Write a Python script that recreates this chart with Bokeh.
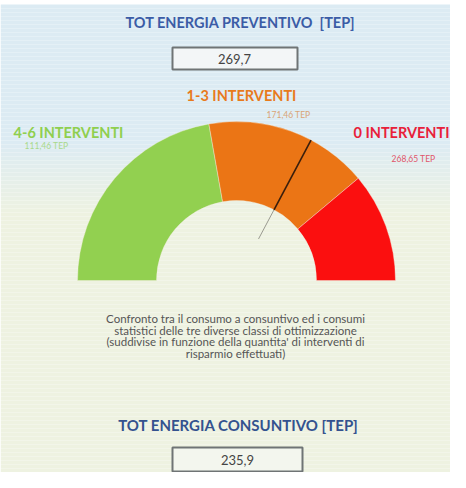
import math
from bokeh.plotting import figure
from bokeh.models import Range1d
from bokeh.core.properties import value
from bokeh.embed import file_html
from bokeh.resources import INLINE

# ---------------- data ----------------
classes = ["4-6 INTERVENTI", "1-3 INTERVENTI", "0 INTERVENTI"]
class_tep = ["111,46 TEP", "171,46 TEP", "268,65 TEP"]
class_colors = ["#92d050", "#eb7515", "#fb0f0f"]
label_colors = ["#8fcf4e", "#e87a1c", "#e8203a"]
sub_colors = ["#a9d98a", "#d9a476", "#e0556a"]
bounds = [0, 160, 280, 360]          # gauge scale limits between classes (TEP)
tot_preventivo = 269.7
tot_consuntivo = 235.9
title_top = "TOT ENERGIA PREVENTIVO\u00a0\u00a0[TEP]"
title_bottom = "TOT ENERGIA CONSUNTIVO [TEP]"
description = [
    "Confronto tra il consumo a consuntivo ed i consumi",
    "statistici delle tre diverse classi di ottimizzazione",
    "(suddivise in funzione della quantita' di interventi di",
    "risparmio effettuati)",
]

W, H = 450, 472
p = figure(width=W, height=H, output_backend="svg", toolbar_location=None,
           x_range=Range1d(8, 8 + W), y_range=Range1d(488 - 8 - H, 488 - 8),
           min_border=0)
p.axis.visible = False
p.grid.visible = False
p.outline_line_color = None
p.background_fill_color = "white"
p.border_fill_color = "white"


def Y(sy):
    return 488 - sy


def lerp_col(c1, c2, t):
    a = [int(c1[i:i + 2], 16) for i in (1, 3, 5)]
    b = [int(c2[i:i + 2], 16) for i in (1, 3, 5)]
    return "#%02x%02x%02x" % tuple(int(round(a[k] + (b[k] - a[k]) * t)) for k in range(3))


# background: light blue to cream gradient
blue, cream = "#dcebf3", "#eef2e1"
strips_top, strips_bot, strips_col = [], [], []
y0 = 12
step = 4
while y0 < 488:
    y1 = min(488, y0 + step)
    mid = (y0 + y1) / 2
    t = min(1, max(0, (mid - 150) / 70))
    strips_top.append(Y(y0))
    strips_bot.append(Y(y1))
    strips_col.append(lerp_col(blue, cream, t))
    y0 = y1
p.quad(left=8, right=8 + W, top=strips_top, bottom=strips_bot,
       fill_color=strips_col, line_color=None)

font = value("Lato")

# top title and box
p.text(x=[248], y=[Y(30)], text=[title_top], text_font=font, text_font_style="bold",
       text_font_size="14.5px", text_color="#3b5ca6", text_align="center",
       text_baseline="middle")
p.quad(left=[180], right=[305], top=[Y(55)], bottom=[Y(77)],
       fill_color="#f3f6f7", line_color="#6f7475", line_width=2)
p.text(x=[242], y=[Y(66)], text=[f"{tot_preventivo:.1f}".replace(".", ",")],
       text_font=font, text_font_size="13px", text_color="#444444",
       text_align="center", text_baseline="middle")

# gauge
cx, cy = 244, Y(288)
r_in, r_out = 80, 159
lo, hi = bounds[0], bounds[-1]


def ang(v):
    return math.pi * (1 - (v - lo) / (hi - lo))


starts = [ang(bounds[i + 1]) for i in range(len(classes))]
ends = [ang(bounds[i]) for i in range(len(classes))]
p.annular_wedge(x=cx, y=cy, inner_radius=r_in, outer_radius=r_out,
                start_angle=starts, end_angle=ends, fill_color=class_colors,
                line_color="#f4f0e0", line_width=0.8, line_alpha=0.5)

# needle for consumption value
a = ang(tot_consuntivo)
ca, sa = math.cos(a), math.sin(a)
p.segment(x0=[cx + 47 * ca], y0=[cy + 47 * sa], x1=[cx + r_in * ca], y1=[cy + r_in * sa],
          line_color="#9a9a90", line_width=1)
p.segment(x0=[cx + r_in * ca], y0=[cy + r_in * sa], x1=[cx + r_out * ca], y1=[cy + r_out * sa],
          line_color="#3a1e0c", line_width=1.6)

# class labels
lab_x = [76, 249, 457]
lab_y = [140, 103, 140]
sub_x = [54, 296, 421]
sub_y = [153, 122, 166]
aligns = ["center", "center", "right"]
p.text(x=lab_x, y=[Y(v) for v in lab_y], text=classes, text_font=font,
       text_font_style="bold", text_font_size="14.5px", text_color=label_colors,
       text_align=aligns, text_baseline="middle")
p.text(x=sub_x, y=[Y(v) for v in sub_y], text=class_tep, text_font=font,
       text_font_size="8.5px", text_color=sub_colors, text_align="center",
       text_baseline="middle")

# description
p.text(x=[243] * len(description), y=[Y(326 + 11.5 * i) for i in range(len(description))],
       text=description, text_font=font, text_font_size="11.5px", text_color="#555555",
       text_align="center", text_baseline="middle")

# bottom title and box
p.text(x=[246], y=[Y(432)], text=[title_bottom], text_font=font, text_font_style="bold",
       text_font_size="15px", text_color="#34528f", text_align="center",
       text_baseline="middle")
p.quad(left=[180], right=[310], top=[Y(455)], bottom=[Y(479)],
       fill_color="#f3f6ee", line_color="#6f7475", line_width=2)
p.text(x=[245], y=[Y(467)], text=[f"{tot_consuntivo:.1f}".replace(".", ",")],
       text_font=font, text_font_size="13px", text_color="#444444",
       text_align="center", text_baseline="middle")

open("out.html", "w").write(file_html(p, INLINE))
